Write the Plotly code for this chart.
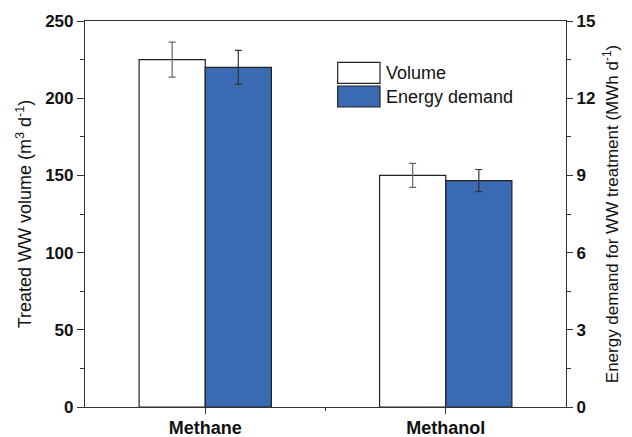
import plotly.graph_objects as go

categories = ["Methane", "Methanol"]
x_pos = [0, 1]
volume = [225, 150]
volume_err = [11.3, 7.8]
energy = [13.2, 8.8]
energy_err = [0.66, 0.43]
left_ticks = [0, 50, 100, 150, 200, 250]
right_ticks = [0, 3, 6, 9, 12, 15]
legend_labels = ["Volume", "Energy demand"]

FONT = "Arial, Liberation Sans, sans-serif"
BLUE = "#3A6AB2"
AX = "#333333"

fig = go.Figure()
fig.add_bar(
    x=x_pos, y=volume, width=0.275, offset=-0.275, name=legend_labels[0],
    marker=dict(color="white", line=dict(color="#222", width=1.2)),
    error_y=dict(type="data", array=volume_err, color="#666", thickness=1.2, width=3.5),
    yaxis="y", showlegend=False,
)
fig.add_bar(
    x=x_pos, y=energy, width=0.275, offset=0, name=legend_labels[1],
    marker=dict(color=BLUE, line=dict(color="#222", width=1.2)),
    error_y=dict(type="data", array=energy_err, color="#333", thickness=1.2, width=3.5),
    yaxis="y2", showlegend=False,
)

L, R, T, B = 85, 66, 21, 30
W, H = 632, 437
pw, ph = W - L - R, H - T - B

def px(x):
    return (x - L) / pw

def py(y):
    return (H - B - y) / ph

# custom legend (large swatches like the reference)
sw = [("white", 62.3, 83.3), (BLUE, 86, 107)]
for (col, y0, y1), lab in zip(sw, legend_labels):
    fig.add_shape(type="rect", xref="paper", yref="paper",
                  x0=px(337.7), x1=px(380), y0=py(y1), y1=py(y0),
                  fillcolor=col, line=dict(color="#222", width=1.2))
    fig.add_annotation(xref="paper", yref="paper", x=px(384), y=py((y0 + y1) / 2),
                       text=lab, showarrow=False, xanchor="left", yanchor="middle",
                       font=dict(family=FONT, size=18, color="#111"))

fig.update_layout(
    width=W, height=H,
    margin=dict(l=L, r=R, t=T, b=B, autoexpand=False),
    paper_bgcolor="white", plot_bgcolor="white",
    barmode="overlay",
    font=dict(family=FONT, color="#111"),
    xaxis=dict(
        range=[-0.5, 1.5], tickvals=x_pos, ticktext=categories,
        showline=True, linecolor=AX, linewidth=1.2, mirror=True,
        ticks="outside", ticklen=6, tickcolor=AX,
        minor=dict(tickvals=[0.5], ticks="outside", ticklen=3, tickcolor=AX),
        tickfont=dict(family=FONT, size=18, weight="bold", color="#111"),
        ticklabelstandoff=-2,
        showgrid=False, zeroline=False,
    ),
    yaxis=dict(
        range=[0, 250], tickvals=left_ticks,
        showline=True, linecolor=AX, linewidth=1.2,
        ticks="outside", ticklen=7, tickcolor=AX,
        minor=dict(dtick=25, ticks="outside", ticklen=4, tickcolor=AX),
        tickfont=dict(family=FONT, size=17, weight="bold", color="#111"),
        title=dict(text="Treated WW volume (m<sup>3</sup> d<sup>-1</sup>)",
                   font=dict(family=FONT, size=18, color="#111"), standoff=8),
        showgrid=False, zeroline=False, automargin=False,
    ),
    yaxis2=dict(
        range=[0, 15], tickvals=right_ticks, overlaying="y", side="right",
        showline=True, linecolor=AX, linewidth=1.2,
        ticks="outside", ticklen=6, tickcolor=AX,
        minor=dict(dtick=1.5, ticks="outside", ticklen=4, tickcolor=AX),
        tickfont=dict(family=FONT, size=17, weight="bold", color="#111"),
        title=dict(text="Energy demand for WW treatment (MWh d<sup>-1</sup>)",
                   font=dict(family=FONT, size=17, color="#111"), standoff=11),
        showgrid=False, zeroline=False, automargin=False,
    ),
)

fig.write_html(
    "out.html",
    config={"displayModeBar": False},
    post_script="document.body.style.margin='0';document.body.style.overflow='hidden';",
)
